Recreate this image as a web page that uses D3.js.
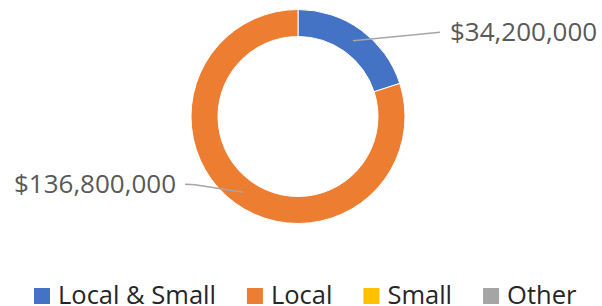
<!DOCTYPE html>
<html>
<head>
<meta charset="utf-8">
<script src="https://cdn.jsdelivr.net/npm/d3@7"></script>
<style>
  body { margin: 0; background: #fff; }
  svg { display: block; font-family: "Open Sans", sans-serif; }
</style>
</head>
<body>
<div id="chart"></div>
<script>
var categories = ["Local & Small", "Local", "Small", "Other"];
var values = [34200000, 136800000, 0, 0];
var colors = ["#4472C4", "#ED7D31", "#FFC000", "#A5A5A5"];

var width = 602, height = 306;
var cx = 298, cy = 116.5;
var outerR = 107, innerR = 80;

var svg = d3.select("#chart").append("svg")
    .attr("width", width)
    .attr("height", height);

var data = categories.map(function(c, i) {
    return { name: c, value: values[i], color: colors[i] };
});

var pie = d3.pie()
    .sort(null)
    .value(function(d) { return d.value; });

var arc = d3.arc()
    .innerRadius(innerR)
    .outerRadius(outerR);

var fmt = d3.format("$,");

var g = svg.append("g")
    .attr("transform", "translate(" + cx + "," + cy + ")");

var arcs = pie(data).filter(function(d) { return d.data.value > 0; });

g.selectAll("path.slice")
    .data(arcs)
    .enter().append("path")
    .attr("class", "slice")
    .attr("d", arc)
    .attr("fill", function(d) { return d.data.color; })
    .attr("stroke", "#fff")
    .attr("stroke-width", 1);

// leader lines + labels
var midR = (innerR + outerR) / 2;
var labelArc = d3.arc().innerRadius(midR).outerRadius(midR);

arcs.forEach(function(d) {
    var c = labelArc.centroid(d);
    var mid = (d.startAngle + d.endAngle) / 2;
    var right = mid < Math.PI;
    var pts, tx, ty, anchor;
    if (right) {
        pts = [c, [c[0] + 87, c[1] - 8.5]];
        tx = c[0] + 97; ty = c[1] - 8.5; anchor = "start";
    } else {
        pts = [c, [c[0] - 48, c[1] - 7.5], [c[0] - 58, c[1] - 7.8]];
        tx = c[0] - 67; ty = c[1] - 7.8; anchor = "end";
    }
    g.append("path")
        .attr("d", d3.line()(pts))
        .attr("fill", "none")
        .attr("stroke", "#A6A6A6")
        .attr("stroke-width", 1.5);
    g.append("text")
        .attr("x", tx)
        .attr("y", ty + 9)
        .attr("text-anchor", anchor)
        .attr("fill", "#595959")
        .style("font-size", "26px")
        .text(fmt(d.data.value));
});

// legend
var legend = svg.append("g").attr("transform", "translate(34,288)");
var lx = 0;
data.forEach(function(d) {
    var item = legend.append("g").attr("transform", "translate(" + lx + ",0)");
    item.append("rect")
        .attr("width", 16)
        .attr("height", 16)
        .attr("fill", d.color);
    var t = item.append("text")
        .attr("x", 24)
        .attr("y", 15.5)
        .attr("fill", "#262626")
        .style("font-size", "25.5px")
        .text(d.name);
    lx += 24 + t.node().getComputedTextLength() + 31;
});
</script>
</body>
</html>
